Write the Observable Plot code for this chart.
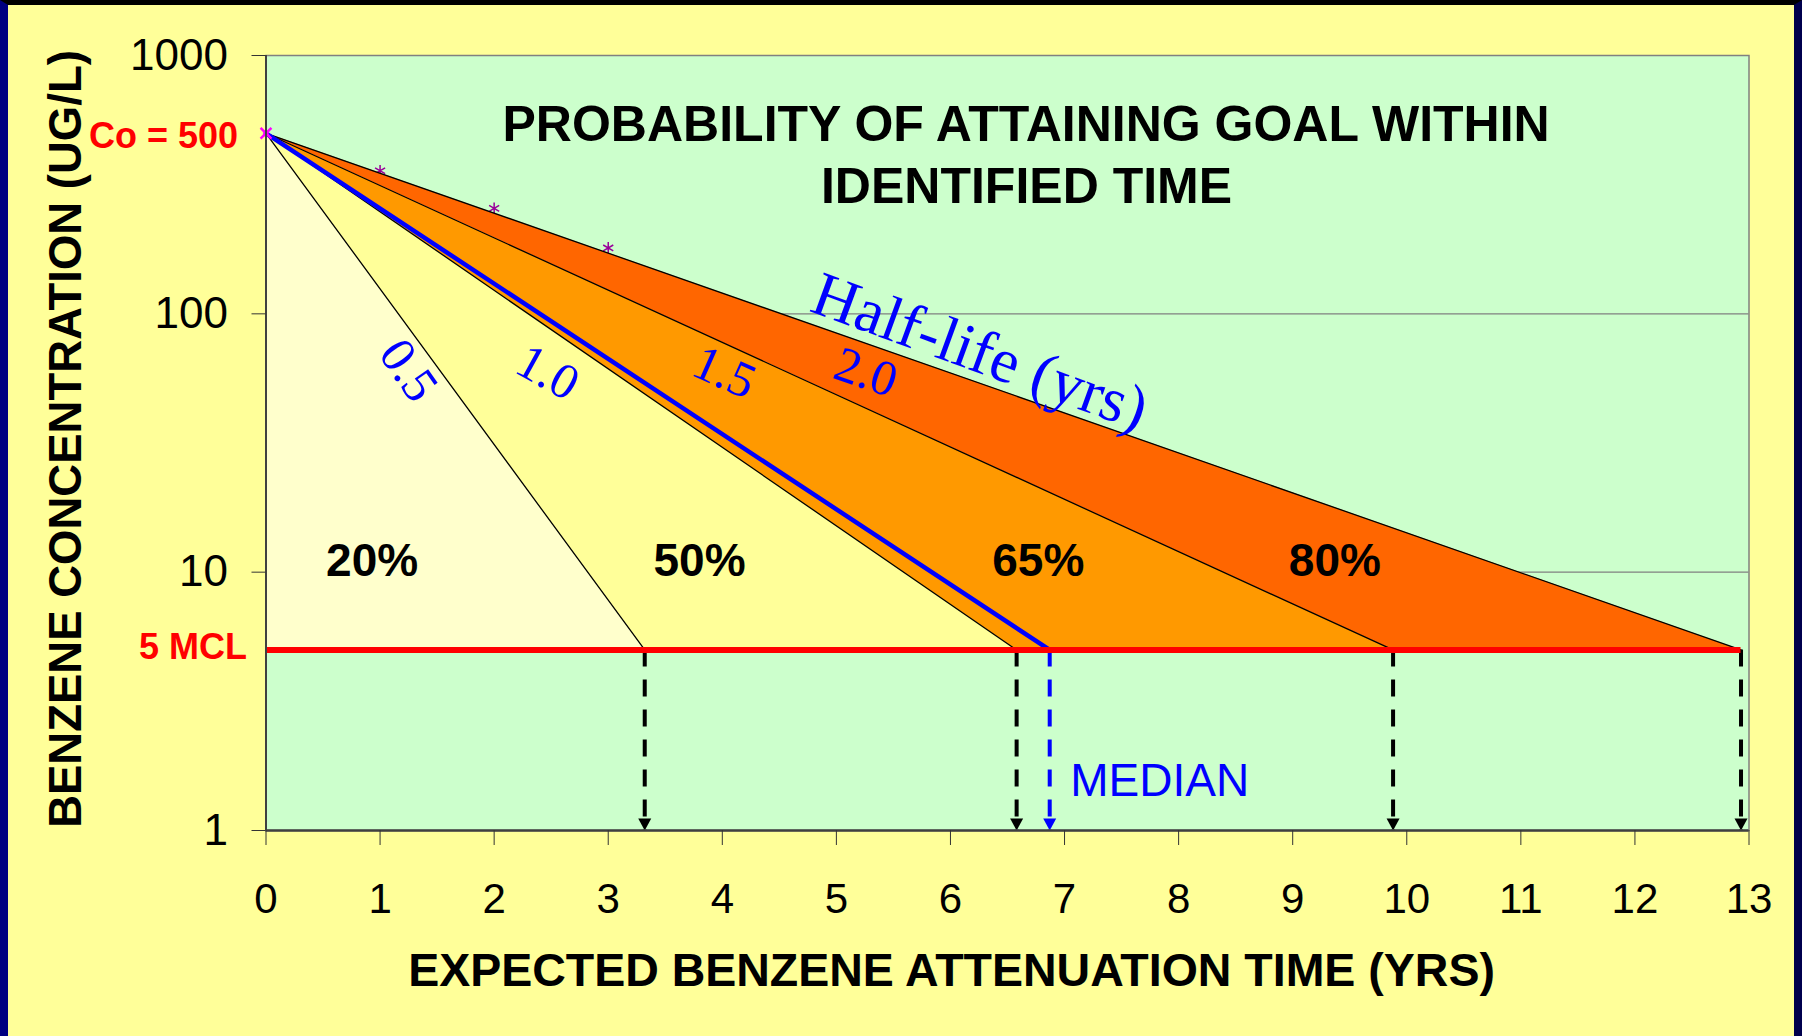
<!DOCTYPE html>
<html><head><meta charset="utf-8">
<script src="https://cdn.jsdelivr.net/npm/d3@7"></script>
<script src="https://cdn.jsdelivr.net/npm/@observablehq/plot@0.6"></script>
<style>
html,body{margin:0;padding:0;overflow:hidden;background:#000;}
#frame{position:absolute;left:0;top:0;width:1786px;height:1031px;border-top:5px solid #000;border-left:8px solid #000080;border-right:8px solid #00004d;background:#FFFF99;}
#frame svg{display:block;}
</style></head><body><div id="frame"></div>
<script>
// ---- data ----
const Co = 500;                 // initial concentration (ug/L)
const MCL = 5;                  // goal (ug/L)
const halfLives = ["0.5", "1.0", "1.5", "2.0"];
const attainTimes = [3.32, 6.58, 9.88, 12.93];   // years to reach MCL, per bounding line
const medianTime = 6.87;
const probabilities = ["20%", "50%", "65%", "80%"];
const regionColors = ["#FFFFCC", "#FFFF99", "#FF9900", "#FF6600"];
const markerX = [1, 2, 3];
const markerY = [358, 256, 180];
const xTicks = [0, 1, 2, 3, 4, 5, 6, 7, 8, 9, 10, 11, 12, 13];
const yTicks = [1, 10, 100, 1000];
const probLabelX = [0.93, 3.80, 6.77, 9.37];
const probLabelY = [11, 11, 11, 11];
const hlLabelX = [1.25, 2.47, 4.02, 5.26];
const hlLabelY = [60.4, 59.3, 59.3, 59.3];
const hlLabelAngle = [55, 29, 24, 19];
const halfLifeTitle = {text: "Half-life (yrs)", x: 6.26, y: 71.2, angle: 20};
const medianLabel = {text: "MEDIAN", x: 7.05, y: 1.55};
const titleLines = ["PROBABILITY OF ATTAINING GOAL WITHIN", "IDENTIFIED TIME"];
const xLabel = "EXPECTED BENZENE ATTENUATION TIME (YRS)";
const yLabel = "BENZENE CONCENTRATION (UG/L)";

// ---- derived tables ----
const bounds = [0, ...attainTimes];
const regionRows = [];
probabilities.forEach((p, i) => {
  regionRows.push({region: p, x1: 0, y1: Co, x2: 0, y2: Co});
  regionRows.push({region: p, x1: bounds[i], y1: MCL, x2: bounds[i + 1], y2: MCL});
});
const lineRows = [];
attainTimes.forEach((t, i) => {
  lineRows.push({id: i, x: 0, y: Co});
  lineRows.push({id: i, x: t, y: MCL});
});
const medianRows = [{x: 0, y: Co}, {x: medianTime, y: MCL}];
const arrowRows = [
  ...attainTimes.map(t => ({x: t, c: "#000000"})),
  {x: medianTime, c: "#0000FF"}
];
const markers = markerX.map((x, i) => ({x, y: markerY[i]}));
const probLabels = probabilities.map((p, i) => ({text: p, x: probLabelX[i], y: probLabelY[i]}));
const hlLabels = halfLives.map((h, i) => ({text: h, x: hlLabelX[i], y: hlLabelY[i], a: hlLabelAngle[i]}));

const downTriangle = {
  draw(ctx) { ctx.moveTo(-6.5, -12); ctx.lineTo(6.5, -12); ctx.lineTo(0, 0); ctx.closePath(); }
};

const SANS = "Liberation Sans, Arial, sans-serif";
const SERIF = "Liberation Serif, Times New Roman, serif";

const chart = Plot.plot({
  width: 1786,
  height: 1031,
  marginTop: 50,
  marginRight: 45.5,
  marginBottom: 206,
  marginLeft: 257.5,
  style: {background: "transparent", fontFamily: SANS, color: "#000"},
  x: {domain: [0, 13]},
  y: {type: "log", domain: [1, 1000]},
  marks: [
    Plot.frame({fill: "#CCFFCC"}),
    Plot.ruleY([10, 100], {stroke: "#808080", strokeWidth: 1.2}),
    Plot.dot(markers, {x: "x", y: "y", symbol: "asterisk", r: 5.5, stroke: "#990099", strokeWidth: 1.5}),
    Plot.area(regionRows, {x1: "x1", y1: "y1", x2: "x2", y2: "y2", z: "region",
      fill: d => regionColors[probabilities.indexOf(d.region)], curve: "linear"}),
    Plot.line(lineRows, {x: "x", y: "y", z: "id", stroke: "#000", strokeWidth: 1.3}),
    Plot.line(medianRows, {x: "x", y: "y", stroke: "#0000FF", strokeWidth: 4.5}),
    Plot.ruleX(arrowRows, {x: "x", y1: MCL, y2: 1, stroke: "c", strokeWidth: 4, strokeDasharray: "17,13"}),
    Plot.dot(arrowRows, {x: "x", y: 1, symbol: downTriangle, fill: "c", stroke: null, r: 5}),
    Plot.ruleY([MCL], {x1: 0, x2: attainTimes[attainTimes.length - 1], stroke: "#FF0000", strokeWidth: 6}),
    Plot.dot([{x: 0, y: Co}], {x: "x", y: "y", symbol: "times", r: 5, stroke: "#FF00FF", strokeWidth: 2.5}),
    Plot.dot([{x: 0, y: Co}], {x: "x", y: "y", symbol: "square", r: 3.5, fill: "#FF00FF", fillOpacity: 0.6}),
    Plot.frame({stroke: "#808080", strokeWidth: 1.5}),
    Plot.ruleX([0], {stroke: "#404040", strokeWidth: 2}),
    Plot.ruleY([1], {stroke: "#404040", strokeWidth: 2.5}),
    Plot.axisX({ticks: xTicks, tickSize: 15, tickPadding: 38, fontSize: 42, label: null, tickFormat: d => String(d), stroke: "#333"}),
    Plot.axisY({ticks: yTicks, tickSize: 14, tickPadding: 24, fontSize: 44, label: null, tickFormat: d => String(d), stroke: "#333"}),
    // annotations
    Plot.text(probLabels, {x: "x", y: "y", text: "text", fontSize: 46, fontWeight: "bold", fill: "#000"}),
    ...hlLabels.map(h => Plot.text([h], {x: "x", y: "y", text: "text", rotate: h.a, fontSize: 50,
      fontFamily: SERIF, fill: "#0000FF"})),
    Plot.text([halfLifeTitle], {x: "x", y: "y", text: "text", rotate: halfLifeTitle.angle, fontSize: 63,
      fontFamily: SERIF, fill: "#0000FF"}),
    Plot.text([medianLabel], {x: "x", y: "y", text: "text", textAnchor: "start", fontSize: 46, fill: "#0000FF"}),
    Plot.text([Co], {x: 0, y: d => d, text: d => `Co = ${d}`, textAnchor: "end", dx: -28, dy: 3,
      fontSize: 36, fontWeight: "bold", fill: "#FF0000"}),
    Plot.text([MCL], {x: 0, y: d => d, text: d => `${d} MCL`, textAnchor: "end", dx: -19, dy: -2,
      fontSize: 36, fontWeight: "bold", fill: "#FF0000"}),
    Plot.text([titleLines[0]], {frameAnchor: "top", textAnchor: "middle", lineAnchor: "middle", text: d => d,
      dx: 18.6, dy: 69.5, fontSize: 50, fontWeight: "bold"}),
    Plot.text([titleLines[1]], {frameAnchor: "top", textAnchor: "middle", lineAnchor: "middle", text: d => d,
      dx: 19, dy: 131, fontSize: 50, fontWeight: "bold"}),
    Plot.text([xLabel], {frameAnchor: "bottom", textAnchor: "middle", lineAnchor: "middle", text: d => d,
      dx: -56, dy: 141, fontSize: 46.5, fontWeight: "bold"}),
    Plot.text([yLabel], {frameAnchor: "left", textAnchor: "middle", lineAnchor: "middle", text: d => d,
      rotate: -90, dx: -200, dy: -4, fontSize: 45.5, fontWeight: "bold"})
  ]
});
document.getElementById("frame").appendChild(chart);
</script>
</body></html>
